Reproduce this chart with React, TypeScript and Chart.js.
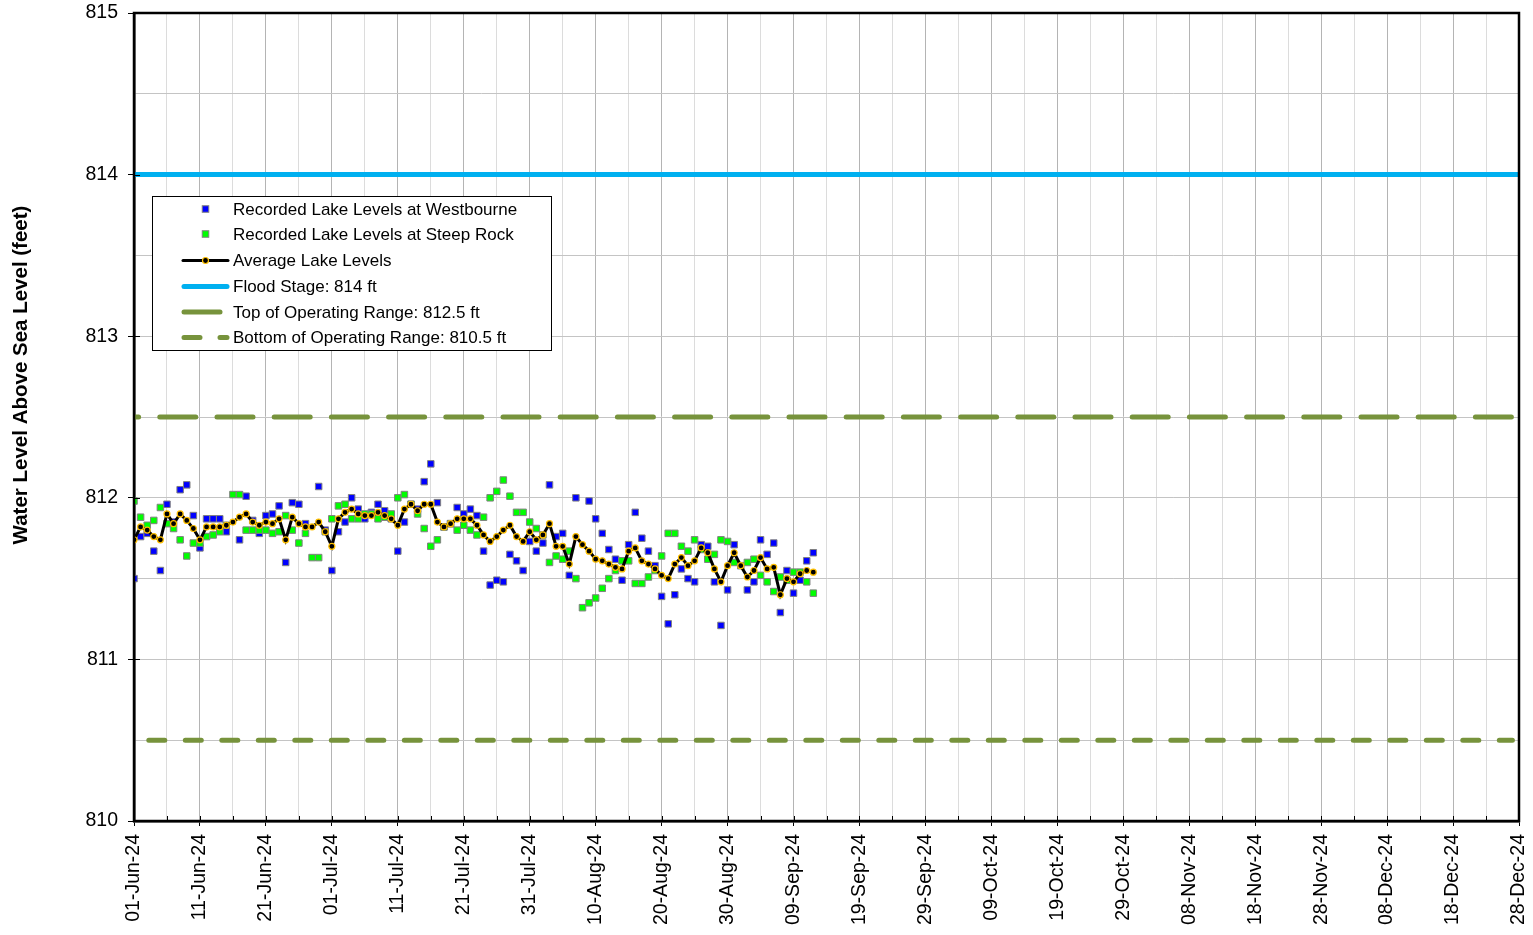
import React, { useEffect, useRef } from 'react';
import { Chart, registerables } from 'chart.js';

Chart.register(...registerables);

// ---------- data ----------
const START_YEAR = 2024;
const START_MONTH = 5; // June (0-based)
const START_DAY = 1;
const X_SPAN_DAYS = 210; // 01-Jun-24 .. 28-Dec-24
const MONTHS = ['Jan', 'Feb', 'Mar', 'Apr', 'May', 'Jun', 'Jul', 'Aug', 'Sep', 'Oct', 'Nov', 'Dec'];

const Y_MIN = 810;
const Y_MAX = 815;

const FLOOD_STAGE = 814;
const TOP_OF_RANGE = 812.5;
const BOTTOM_OF_RANGE = 810.5;

// daily readings starting 01-Jun-24
const westbourne: (number | null)[] = [
  811.50, 811.76, 811.78, 811.67, 811.55, 811.96, 811.85, 812.05, 812.08, 811.89,
  811.69, 811.87, 811.87, 811.87, 811.79, null, 811.74, 812.01, 811.86, 811.78,
  811.89, 811.90, 811.95, 811.60, 811.97, 811.96, 811.84, null, 812.07, 811.80,
  811.55, 811.79, 811.85, 812.00, 811.93, 811.87, 811.91, 811.96, 811.92, 811.87,
  811.67, 811.85, 811.96, 811.93, 812.10, 812.21, 811.97, 811.82, 811.84, 811.94,
  811.90, 811.93, 811.89, 811.67, 811.46, 811.49, 811.48, 811.65, 811.61, 811.55,
  811.73, 811.67, 811.72, 812.08, 811.76, 811.78, 811.52, 812.00, null, 811.98,
  811.87, 811.78, 811.68, 811.62, 811.49, 811.71, 811.91, 811.75, 811.67, 811.58,
  811.39, 811.22, 811.40, 811.56, 811.50, 811.48, 811.71, 811.70, 811.48, 811.21,
  811.43, 811.71, null, 811.43, 811.48, 811.74, 811.65, 811.72, 811.29, 811.55,
  811.41, 811.49, 811.61, 811.66,
];

const steepRock: (number | null)[] = [
  811.98, 811.88, 811.83, 811.86, 811.94, 811.84, 811.81, 811.74, 811.64, 811.72,
  811.72, 811.76, 811.77, 811.79, 811.83, 812.02, 812.02, 811.80, 811.80, 811.80,
  811.80, 811.78, 811.79, 811.89, 811.80, 811.72, 811.78, 811.63, 811.63, 811.79,
  811.87, 811.95, 811.96, 811.87, 811.87, 811.90, 811.90, 811.87, 811.88, 811.90,
  812.00, 812.02, 811.96, 811.90, 811.81, 811.70, 811.74, 811.82, 811.84, 811.80,
  811.83, 811.80, 811.77, 811.88, 812.00, 812.04, 812.11, 812.01, 811.91, 811.91,
  811.85, 811.81, 811.77, 811.60, 811.64, 811.62, 811.67, 811.50, 811.32, 811.35,
  811.38, 811.44, 811.50, 811.55, 811.61, 811.61, 811.47, 811.47, 811.51, 811.55,
  811.64, 811.78, 811.78, 811.70, 811.67, 811.74, 811.68, 811.62, 811.65, 811.74,
  811.73, 811.60, 811.58, 811.60, 811.62, 811.52, 811.48, 811.42, 811.51, 811.49,
  811.54, 811.54, 811.48, 811.41,
];

const average: (number | null)[] = [
  811.74, 811.82, 811.80, 811.76, 811.74, 811.90, 811.84, 811.90, 811.86, 811.81,
  811.74, 811.82, 811.82, 811.82, 811.83, 811.85, 811.88, 811.90, 811.85, 811.83,
  811.85, 811.84, 811.87, 811.74, 811.88, 811.84, 811.82, 811.82, 811.85, 811.79,
  811.70, 811.87, 811.91, 811.93, 811.90, 811.89, 811.89, 811.91, 811.89, 811.87,
  811.83, 811.93, 811.96, 811.92, 811.96, 811.96, 811.85, 811.82, 811.84, 811.87,
  811.87, 811.87, 811.83, 811.77, 811.73, 811.76, 811.80, 811.83, 811.76, 811.73,
  811.79, 811.74, 811.77, 811.84, 811.70, 811.70, 811.59, 811.76, 811.71, 811.67,
  811.62, 811.61, 811.59, 811.57, 811.56, 811.67, 811.69, 811.61, 811.59, 811.56,
  811.52, 811.50, 811.59, 811.63, 811.58, 811.61, 811.69, 811.66, 811.56, 811.48,
  811.58, 811.66, 811.58, 811.51, 811.55, 811.63, 811.56, 811.57, 811.40, 811.50,
  811.48, 811.53, 811.55, 811.54,
];

const LEGEND_LABELS = [
  'Recorded Lake Levels at Westbourne',
  'Recorded Lake Levels at Steep Rock',
  'Average Lake Levels',
  'Flood Stage: 814 ft',
  'Top of Operating Range: 812.5 ft',
  'Bottom of Operating Range: 810.5 ft',
];

const Y_TITLE = 'Water Level Above Sea Level (feet)';

// ---------- style ----------
const FONT = '"Liberation Sans", Arial, Helvetica, sans-serif';
const BLUE = '#0000ff';
const GREEN = '#00ff00';
const MARKER_EDGE = '#808080';
const FLOOD_COLOR = '#00b0f0';
const OLIVE = '#77933c';
const AVG_DOT_EDGE = '#ffc000';

function formatDay(offset: number): string {
  const d = new Date(START_YEAR, START_MONTH, START_DAY + offset);
  const dd = String(d.getDate()).padStart(2, '0');
  const yy = String(d.getFullYear() % 100).padStart(2, '0');
  return `${dd}-${MONTHS[d.getMonth()]}-${yy}`;
}

function toPoints(arr: (number | null)[]) {
  const pts: { x: number; y: number }[] = [];
  arr.forEach((v, i) => {
    if (v !== null) pts.push({ x: i, y: v });
  });
  return pts;
}

const framePlugin = {
  id: 'frameAndExtras',
  afterDraw(chart: any) {
    const { ctx, chartArea } = chart;
    const xs = chart.scales.x;
    const ys = chart.scales.y;
    ctx.save();
    // inner tick marks
    ctx.strokeStyle = '#000';
    ctx.lineWidth = 1;
    for (let d = 5; d < X_SPAN_DAYS; d += 5) {
      const px = Math.round(xs.getPixelForValue(d)) + 0.5;
      ctx.beginPath();
      ctx.moveTo(px, chartArea.bottom);
      ctx.lineTo(px, chartArea.bottom - 5);
      ctx.stroke();
    }
    for (let v = Y_MIN + 1; v < Y_MAX; v += 1) {
      const py = Math.round(ys.getPixelForValue(v)) + 0.5;
      ctx.beginPath();
      ctx.moveTo(chartArea.left, py);
      ctx.lineTo(chartArea.left + 6, py);
      ctx.stroke();
    }
    // frame
    ctx.lineWidth = 2.5;
    ctx.strokeStyle = '#000';
    ctx.strokeRect(chartArea.left, chartArea.top, chartArea.right - chartArea.left, chartArea.bottom - chartArea.top);

    // y title
    ctx.save();
    ctx.translate(21, 375);
    ctx.rotate(-Math.PI / 2);
    ctx.fillStyle = '#000';
    ctx.font = `bold 20.5px ${FONT}`;
    ctx.textAlign = 'center';
    ctx.textBaseline = 'middle';
    ctx.fillText(Y_TITLE, 0, 0);
    ctx.restore();

    // legend
    const bx = 152.5, by = 196.5, bw = 399, bh = 154;
    ctx.fillStyle = '#fff';
    ctx.fillRect(bx, by, bw, bh);
    ctx.strokeStyle = '#000';
    ctx.lineWidth = 1;
    ctx.strokeRect(bx, by, bw, bh);
    const rows = [209, 234, 260.5, 286.5, 312, 337.5];
    const textX = 233;
    ctx.font = `17px ${FONT}`;
    ctx.textAlign = 'left';
    ctx.textBaseline = 'middle';
    ctx.fillStyle = '#000';
    LEGEND_LABELS.forEach((lab, i) => ctx.fillText(lab, textX, rows[i] + 1));

    const square = (cx: number, cy: number, fill: string) => {
      ctx.fillStyle = fill;
      ctx.strokeStyle = MARKER_EDGE;
      ctx.lineWidth = 1;
      ctx.fillRect(cx - 3.25, cy - 3.25, 6.5, 6.5);
      ctx.strokeRect(cx - 3.25, cy - 3.25, 6.5, 6.5);
    };
    square(205.5, rows[0], BLUE);
    square(205.5, rows[1], GREEN);

    ctx.lineCap = 'round';
    // average
    ctx.strokeStyle = '#000';
    ctx.lineWidth = 3;
    ctx.beginPath();
    ctx.moveTo(183, rows[2]);
    ctx.lineTo(228, rows[2]);
    ctx.stroke();
    ctx.beginPath();
    ctx.arc(205.5, rows[2], 3, 0, Math.PI * 2);
    ctx.fillStyle = '#000';
    ctx.fill();
    ctx.lineWidth = 1.2;
    ctx.strokeStyle = AVG_DOT_EDGE;
    ctx.stroke();
    // flood
    ctx.strokeStyle = FLOOD_COLOR;
    ctx.lineWidth = 5;
    ctx.beginPath();
    ctx.moveTo(184, rows[3]);
    ctx.lineTo(227, rows[3]);
    ctx.stroke();
    // top
    ctx.strokeStyle = OLIVE;
    ctx.beginPath();
    ctx.moveTo(184, rows[4]);
    ctx.lineTo(220, rows[4]);
    ctx.stroke();
    // bottom (dashed)
    ctx.beginPath();
    ctx.moveTo(184, rows[5]);
    ctx.lineTo(200, rows[5]);
    ctx.moveTo(220, rows[5]);
    ctx.lineTo(227, rows[5]);
    ctx.stroke();
    ctx.restore();
  },
};

export default function App() {
  const canvasRef = useRef<HTMLCanvasElement | null>(null);

  useEffect(() => {
    if (!canvasRef.current) return;
    const chart = new Chart(canvasRef.current, {
      type: 'line',
      data: {
        datasets: [
          {
            label: LEGEND_LABELS[2],
            data: toPoints(average),
            borderColor: '#000',
            borderWidth: 3,
            pointRadius: 3,
            pointBackgroundColor: '#000',
            pointBorderColor: AVG_DOT_EDGE,
            pointBorderWidth: 1.2,
            tension: 0,
            order: 0,
          },
          {
            label: LEGEND_LABELS[1],
            data: toPoints(steepRock),
            showLine: false,
            pointStyle: 'rect',
            pointRadius: 4.6,
            backgroundColor: GREEN,
            borderColor: MARKER_EDGE,
            borderWidth: 1,
            pointBackgroundColor: GREEN,
            pointBorderColor: MARKER_EDGE,
            pointBorderWidth: 1,
            order: 1,
          },
          {
            label: LEGEND_LABELS[0],
            data: toPoints(westbourne),
            showLine: false,
            pointStyle: 'rect',
            pointRadius: 4.6,
            backgroundColor: BLUE,
            borderColor: MARKER_EDGE,
            borderWidth: 1,
            pointBackgroundColor: BLUE,
            pointBorderColor: MARKER_EDGE,
            pointBorderWidth: 1,
            order: 2,
          },
          {
            label: LEGEND_LABELS[3],
            data: [{ x: 0, y: FLOOD_STAGE }, { x: X_SPAN_DAYS, y: FLOOD_STAGE }],
            borderColor: FLOOD_COLOR,
            borderWidth: 5,
            pointRadius: 0,
            order: 3,
          },
          {
            label: LEGEND_LABELS[4],
            data: [{ x: 0, y: TOP_OF_RANGE }, { x: X_SPAN_DAYS - 1, y: TOP_OF_RANGE }],
            borderColor: OLIVE,
            borderWidth: 5,
            borderCapStyle: 'round',
            borderDash: [36, 21.2],
            borderDashOffset: 31.4,
            pointRadius: 0,
            order: 3,
          },
          {
            label: LEGEND_LABELS[5],
            data: [{ x: 0, y: BOTTOM_OF_RANGE }, { x: X_SPAN_DAYS - 1, y: BOTTOM_OF_RANGE }],
            borderColor: OLIVE,
            borderWidth: 5,
            borderCapStyle: 'round',
            borderDash: [16, 20.5],
            borderDashOffset: 21.7,
            pointRadius: 0,
            order: 3,
          },
        ],
      },
      options: {
        responsive: false,
        animation: false,
        devicePixelRatio: 1,
        layout: { padding: { left: 0, right: 14, top: 13, bottom: 0 } },
        plugins: {
          legend: { display: false },
          tooltip: { enabled: false },
          title: { display: false },
        },
        events: [],
        scales: {
          x: {
            type: 'linear',
            min: 0,
            max: X_SPAN_DAYS,
            afterFit: (scale: any) => {
              scale.height = 114;
              scale.paddingLeft = 0;
              scale.paddingRight = 0;
            },
            ticks: {
              stepSize: 5,
              autoSkip: false,
              maxRotation: 90,
              minRotation: 90,
              padding: 8,
              color: '#000',
              font: { family: FONT, size: 19.5 },
              callback: (v: any) => (Number(v) % 10 === 0 ? formatDay(Number(v)) : ''),
            },
            grid: {
              color: (ctx: any) => (ctx.tick && ctx.tick.value % 10 === 0 ? '#b4b4b4' : '#dcdcdc'),
              lineWidth: 1,
              tickLength: 5,
              tickColor: (ctx: any) => (ctx.tick && ctx.tick.value % 10 === 0 ? '#000' : 'rgba(0,0,0,0)'),
            },
            border: { display: true, color: '#000', width: 2.5 },
          },
          y: {
            type: 'linear',
            min: Y_MIN,
            max: Y_MAX,
            afterFit: (scale: any) => {
              scale.width = 134;
              scale.paddingTop = 0;
              scale.paddingBottom = 0;
            },
            ticks: {
              stepSize: 0.5,
              autoSkip: false,
              padding: 10,
              color: '#000',
              font: { family: FONT, size: 19.5 },
              callback: (v: any) => (Number(v) % 1 === 0 ? String(v) : ''),
            },
            grid: {
              color: '#c4c4c4',
              lineWidth: 1,
              tickLength: 6,
              tickColor: (ctx: any) => (ctx.tick && ctx.tick.value % 1 === 0 ? '#000' : 'rgba(0,0,0,0)'),
            },
            border: { display: true, color: '#000', width: 2.5 },
          },
        },
      },
      plugins: [framePlugin],
    } as any);
    return () => chart.destroy();
  }, []);

  return (
    <div style={{ position: 'absolute', left: 0, top: 0, width: 1533, height: 935, background: '#fff' }}>
      <canvas ref={canvasRef} width={1533} height={935} style={{ display: 'block', width: 1533, height: 935 }} />
    </div>
  );
}
